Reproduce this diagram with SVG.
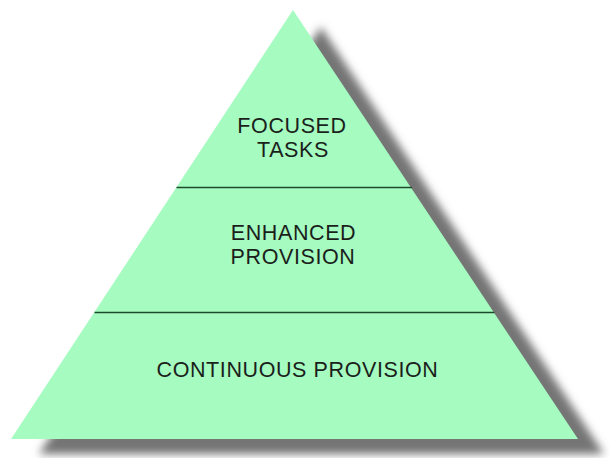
<svg xmlns="http://www.w3.org/2000/svg" width="610" height="458" viewBox="0 0 610 458">
  <defs>
    <filter id="soft" x="-10%" y="-10%" width="120%" height="120%">
      <feGaussianBlur stdDeviation="4.5"/>
    </filter>
    <style>
      .tier { fill: #a6fbc0; }
      .divider { stroke: #1e4a2c; stroke-width: 1.6; fill: none; }
      .label { font-family: "Liberation Sans", Arial, sans-serif; font-size: 21.5px; fill: #1b1f1c; text-anchor: middle; letter-spacing: 0.6px; }
    </style>
  </defs>

  <rect width="610" height="458" fill="#ffffff"/>

  <!-- drop shadow behind the pyramid -->
  <polygon points="321,27 39,454 604,454" fill="#757575" filter="url(#soft)"/>

  <!-- pyramid body -->
  <g id="pyramid">
    <polygon class="tier" points="293,10 11,439 578,439"/>
  </g>

  <!-- tier dividers -->
  <g id="connectors">
    <line class="divider" x1="176.5" y1="187.5" x2="412" y2="187.5"/>
    <line class="divider" x1="94.5" y1="312.5" x2="494.5" y2="312.5"/>
  </g>

  <g id="focused-tasks">
    <text class="label" x="292" y="133">FOCUSED</text>
    <text class="label" x="293" y="157">TASKS</text>
  </g>

  <g id="enhanced-provision">
    <text class="label" x="293.5" y="240">ENHANCED</text>
    <text class="label" x="293" y="264">PROVISION</text>
  </g>

  <g id="continuous-provision">
    <text class="label" x="297.5" y="377">CONTINUOUS PROVISION</text>
  </g>
</svg>
